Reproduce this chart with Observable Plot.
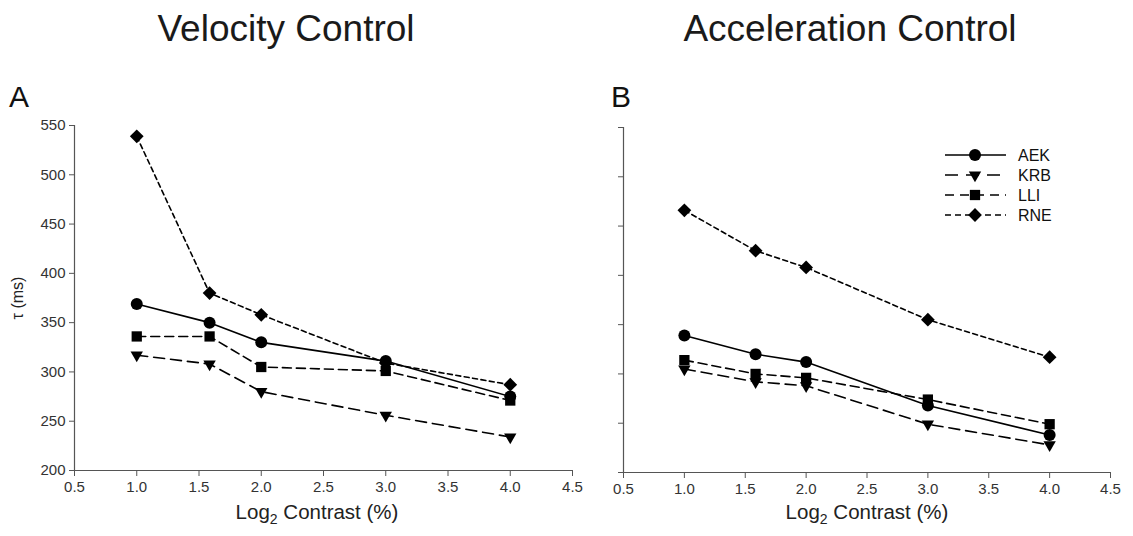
<!DOCTYPE html>
<html>
<head>
<meta charset="utf-8">
<script src="https://cdn.jsdelivr.net/npm/d3@7"></script>
<script src="https://cdn.jsdelivr.net/npm/@observablehq/plot@0.6"></script>
<style>
  body { margin: 0; background: #fff; font-family: "Liberation Sans", Arial, sans-serif; }
  #root { position: relative; width: 1133px; height: 536px; overflow: hidden; }
  .abs { position: absolute; }
  .title { font-size: 37px; color: #1a1a1a; white-space: nowrap; transform: translateX(-50%); }
  .letter { font-size: 30px; color: #111; }
  .xlab { font-size: 20.5px; color: #222; white-space: nowrap; transform: translateX(-50%); }
  .ylab { font-size: 16px; color: #222; white-space: nowrap; transform: translate(-50%, -50%) rotate(-90deg); }
</style>
</head>
<body>
<div id="root"></div>
<script>
// ---------- data ----------
const contrast = [1.0, 1.585, 2.0, 3.0, 4.0];
const subjects = ["AEK", "KRB", "LLI", "RNE"];

const velAEK = [369, 350, 330, 311, 275];
const velKRB = [317, 308, 280, 256, 234];
const velLLI = [336, 336, 305, 301, 271];
const velRNE = [539, 380, 358, 309, 287];

const accAEK = [339, 320, 312, 268, 238];
const accKRB = [305, 292, 288, 249, 228];
const accLLI = [314, 300, 296, 274, 249];
const accRNE = [466, 425, 408, 355, 317];

const xTicks = [0.5, 1.0, 1.5, 2.0, 2.5, 3.0, 3.5, 4.0, 4.5];
const yTicks = [200, 250, 300, 350, 400, 450, 500, 550];
const panelTitles = ["Velocity Control", "Acceleration Control"];
const panelLetters = ["A", "B"];
const xLabel = ["Log", "2", " Contrast (%)"];
const yLabel = "τ (ms)";

// ---------- styles per subject ----------
const styleOf = {
  AEK: {symbol: "circle", r: 6, dash: null, legDash: null, rotate: 0},
  KRB: {symbol: "triangle", r: 4.6, dash: "11,6", legDash: "13,8", rotate: 180},
  LLI: {symbol: "square", r: 5.8, dash: "9,5", legDash: "9,6", rotate: 0},
  RNE: {symbol: "diamond2", r: 6.2, dash: "5,3.5", legDash: "6,4", rotate: 0}
};

function rows(values) {
  const out = [];
  subjects.forEach((s, i) => values[i].forEach((v, j) => out.push({subject: s, x: contrast[j], y: v})));
  return out;
}
const velData = rows([velAEK, velKRB, velLLI, velRNE]);
const accData = rows([accAEK, accKRB, accLLI, accRNE]);

const root = document.getElementById("root");
const xDomain = [xTicks[0], xTicks[xTicks.length - 1]];
const yDomain = [yTicks[0], yTicks[yTicks.length - 1]];

function panel(data, showYLabels, opts) {
  const marks = [
    Plot.ruleX([xDomain[0]], {stroke: "#555", strokeWidth: 1.2}),
    Plot.ruleY([yDomain[0]], {stroke: "#555", strokeWidth: 1.2}),
    Plot.axisX({ticks: xTicks, tickFormat: d3.format(".1f"), tickSize: 6, tickPadding: 5, label: null, stroke: "#555", fill: "#333"}),
    Plot.axisY({ticks: yTicks, tickFormat: showYLabels ? d3.format("d") : () => "", tickSize: 5, tickPadding: 4, label: null, stroke: "#555", fill: "#333"})
  ];
  for (const s of subjects) {
    const st = styleOf[s];
    const d = data.filter(r => r.subject === s);
    marks.push(Plot.line(d, {x: "x", y: "y", stroke: "#000", strokeWidth: 1.6, strokeDasharray: st.dash}));
    marks.push(Plot.dot(d, {x: "x", y: "y", symbol: () => st.symbol, r: st.r, fill: "#000", stroke: "none", rotate: st.rotate}));
  }
  return Plot.plot({
    width: opts.width,
    height: opts.height,
    marginLeft: opts.ml,
    marginRight: opts.mr,
    marginTop: opts.mt,
    marginBottom: opts.mb,
    x: {domain: xDomain},
    y: {domain: yDomain},
    symbol: {type: "identity"},
    style: {fontFamily: "Liberation Sans, Arial, sans-serif", fontSize: "15px", color: "#333", background: "transparent"},
    marks
  });
}

// Panel A
const pA = panel(velData, true, {width: 585, height: 400, ml: 74, mr: 13, mt: 25, mb: 30});
pA.style.position = "absolute"; pA.style.left = "0px"; pA.style.top = "100px";
root.appendChild(pA);

// Panel B
const pB = panel(accData, false, {width: 525, height: 401, ml: 20, mr: 18, mt: 26, mb: 30});
pB.style.position = "absolute"; pB.style.left = "603px"; pB.style.top = "101px";
root.appendChild(pB);

// Titles, letters, labels
function addDiv(cls, html, left, top) {
  const d = document.createElement("div");
  d.className = "abs " + cls;
  d.innerHTML = html;
  d.style.left = left + "px";
  d.style.top = top + "px";
  root.appendChild(d);
  return d;
}
addDiv("title", panelTitles[0], 286, 8);
addDiv("title", panelTitles[1], 850, 8);
addDiv("letter", panelLetters[0], 9, 80);
addDiv("letter", panelLetters[1], 611, 80);
const xl = `${xLabel[0]}<sub style="font-size:14px">${xLabel[1]}</sub>${xLabel[2]}`;
addDiv("xlab", xl, 317, 500);
addDiv("xlab", xl, 867, 500);
addDiv("ylab", yLabel, 18, 298);

// Legend (drawn with d3, outside the plot frame)
const leg = d3.select(root).append("svg")
  .attr("width", 140).attr("height", 100)
  .style("position", "absolute").style("left", "940px").style("top", "143px");
const symMap = {circle: d3.symbolCircle, triangle: d3.symbolTriangle, square: d3.symbolSquare, diamond2: d3.symbolDiamond2};
subjects.forEach((s, i) => {
  const st = styleOf[s];
  const y = 12 + i * 20;
  leg.append("line").attr("x1", 5).attr("x2", 66).attr("y1", y).attr("y2", y)
    .attr("stroke", "#000").attr("stroke-width", 1.6)
    .attr("stroke-dasharray", st.legDash);
  leg.append("path").attr("d", d3.symbol(symMap[st.symbol], Math.PI * st.r * st.r)())
    .attr("transform", `translate(35,${y}) rotate(${st.rotate})`).attr("fill", "#000");
  leg.append("text").attr("x", 78).attr("y", y + 5.5).text(s)
    .attr("font-family", "Liberation Sans, Arial, sans-serif").attr("font-size", 16).attr("fill", "#111");
});
</script>
</body>
</html>
